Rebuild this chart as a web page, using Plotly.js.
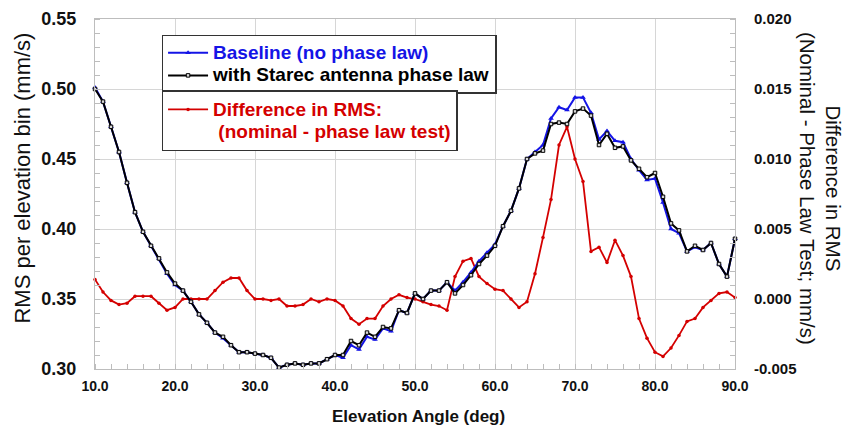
<!DOCTYPE html>
<html>
<head>
<meta charset="utf-8">
<script src="https://cdn.plot.ly/plotly-3.0.1.min.js"></script>
<style>html,body{margin:0;padding:0;background:#fff;}#chart{width:845px;height:430px;}</style>
</head>
<body>
<div id="chart"></div>
<script>
// Elevation angle bins (deg)
var elevation = [10,11,12,13,14,15,16,17,18,19,20,21,22,23,24,25,26,27,28,29,30,31,32,33,34,35,36,37,38,39,40,41,42,43,44,45,46,47,48,49,50,51,52,53,54,55,56,57,58,59,60,61,62,63,64,65,66,67,68,69,70,71,72,73,74,75,76,77,78,79,80,81,82,83,84,85,86,87,88,89,90];

// Baseline (no phase law) RMS, mm/s
var baselineRMS = [0.501,0.491,0.473,0.455,0.433,0.412,0.398,0.388,0.379,0.368,0.360,0.356,0.348,0.339,0.333,0.326,0.322,0.317,0.312,0.312,0.311,0.310,0.308,0.301,0.303,0.304,0.303,0.304,0.304,0.307,0.310,0.308,0.317,0.314,0.323,0.321,0.329,0.327,0.342,0.340,0.354,0.350,0.356,0.356,0.362,0.356,0.362,0.369,0.377,0.383,0.389,0.402,0.413,0.429,0.450,0.455,0.460,0.479,0.487,0.485,0.494,0.494,0.483,0.464,0.470,0.463,0.462,0.450,0.442,0.435,0.436,0.419,0.400,0.397,0.384,0.387,0.385,0.390,0.375,0.366,0.393];

// With Starec antenna phase law RMS, mm/s
var starecRMS = [0.500,0.491,0.473,0.455,0.433,0.412,0.398,0.388,0.379,0.369,0.361,0.356,0.348,0.339,0.333,0.326,0.323,0.317,0.312,0.312,0.311,0.310,0.308,0.301,0.303,0.304,0.303,0.304,0.304,0.307,0.310,0.310,0.320,0.317,0.326,0.323,0.330,0.329,0.342,0.340,0.354,0.350,0.356,0.356,0.362,0.354,0.360,0.367,0.375,0.381,0.388,0.402,0.413,0.429,0.450,0.454,0.456,0.475,0.476,0.475,0.484,0.486,0.481,0.460,0.468,0.458,0.459,0.449,0.443,0.437,0.440,0.423,0.404,0.399,0.384,0.388,0.385,0.390,0.375,0.366,0.393];

// Difference in RMS (nominal - phase law test), mm/s
var diffRMS = [0.0014,0.0005,-0.0001,-0.0004,-0.0003,0.0002,0.0002,0.0002,-0.0003,-0.0008,-0.0006,0.0000,0.0000,0.0000,0.0000,0.0006,0.0012,0.0015,0.0015,0.0006,0.0000,0.0000,-0.0001,0.0000,-0.0005,-0.0005,-0.0004,0.0000,-0.0002,0.0000,-0.0001,-0.0005,-0.0014,-0.0018,-0.0014,-0.0014,-0.0005,0.0000,0.0003,0.0001,0.0000,-0.0002,-0.0004,-0.0005,-0.0008,0.0016,0.0027,0.0029,0.0016,0.0011,0.0007,0.0006,0.0000,-0.0006,-0.0002,0.0018,0.0044,0.0071,0.0110,0.0123,0.0100,0.0084,0.0034,0.0037,0.0026,0.0042,0.0031,0.0016,-0.0014,-0.0028,-0.0038,-0.0041,-0.0035,-0.0026,-0.0016,-0.0014,-0.0006,-0.0001,0.0004,0.0005,0.0001];

// Tick labels
var xTickVals = [10,20,30,40,50,60,70,80,90];
var xTickText = ['10.0','20.0','30.0','40.0','50.0','60.0','70.0','80.0','90.0'];
var rmsTickVals = [0.30,0.35,0.40,0.45,0.50,0.55];
var rmsTickText = ['0.30','0.35','0.40','0.45','0.50','0.55'];
var diffTickVals = [-0.005,0.000,0.005,0.010,0.015,0.020];
var diffTickText = ['-0.005','0.000','0.005','0.010','0.015','0.020'];

var BLUE = '#1414e6', RED = '#d40000', FONT = 'Liberation Sans, Arial, sans-serif';

var traces = [
  {x: elevation, y: diffRMS, yaxis: 'y', type: 'scatter', mode: 'lines+markers',
   name: '<span style="color:' + RED + ';font-size:19px">Difference in RMS:</span><br><span style="color:' + RED + ';font-size:19px">\u00a0(nominal - phase law test)</span>',
   line: {color: RED, width: 1.8}, marker: {symbol: 'circle', size: 3.5, color: RED},
   legend: 'legend2', cliponaxis: false},
  {x: elevation, y: baselineRMS, yaxis: 'y2', type: 'scatter', mode: 'lines+markers',
   name: '<span style="color:' + BLUE + ';font-size:19px">Baseline (no phase law)</span>',
   line: {color: BLUE, width: 2}, marker: {symbol: 'triangle-up', size: 5, color: BLUE},
   legend: 'legend', cliponaxis: false},
  {x: elevation, y: starecRMS, yaxis: 'y2', type: 'scatter', mode: 'lines+markers',
   name: '<span style="font-size:19px">with Starec antenna phase law</span>',
   line: {color: '#000', width: 2}, marker: {symbol: 'square', size: 3.5, color: '#d8d8d8', line: {color: '#000', width: 1}},
   legend: 'legend', cliponaxis: false}
];

var gridC = '#d6d6d6', lineC = '#bdbdbd';
var layout = {
  width: 845, height: 430,
  margin: {l: 95, r: 110, t: 19, b: 61},
  paper_bgcolor: '#fff', plot_bgcolor: '#fff',
  font: {family: FONT, color: '#111'},
  showlegend: true,
  xaxis: {range: [10, 90], tickvals: xTickVals, ticktext: xTickText,
    showgrid: true, gridcolor: gridC, gridwidth: 1, zeroline: false,
    showline: true, linecolor: lineC, linewidth: 1, mirror: true,
    ticks: '', ticklabelstandoff: 4,
    tickfont: {family: FONT, size: 14, weight: 'bold', color: '#111'},
    minor: {dtick: 2, tick0: 10, ticks: 'inside', ticklen: 5, tickcolor: lineC, showgrid: false}},
  yaxis: {range: [-0.005, 0.020], side: 'right', tickvals: diffTickVals, ticktext: diffTickText,
    showgrid: true, gridcolor: gridC, zeroline: false,
    showline: true, linecolor: lineC, linewidth: 1,
    ticks: '', ticklabelstandoff: 15,
    tickfont: {family: FONT, size: 15, weight: 'bold', color: '#111'},
    minor: {dtick: 0.001, tick0: 0, ticks: 'inside', ticklen: 5, tickcolor: lineC, showgrid: false}},
  yaxis2: {range: [0.30, 0.55], side: 'left', overlaying: 'y', tickvals: rmsTickVals, ticktext: rmsTickText,
    showgrid: true, gridcolor: gridC, zeroline: false,
    showline: true, linecolor: lineC, linewidth: 1,
    ticks: '', ticklabelstandoff: 14,
    tickfont: {family: FONT, size: 18, weight: 'bold', color: '#111'},
    minor: {dtick: 0.01, tick0: 0.30, ticks: 'inside', ticklen: 5, tickcolor: lineC, showgrid: false}},
  legend: {x: 0.104, y: 0.955, xanchor: 'left', yanchor: 'top', bgcolor: '#fff',
    bordercolor: '#333', borderwidth: 1.5, itemwidth: 40, tracegroupgap: 0,
    font: {family: FONT, size: 15.2, weight: 'bold', color: '#000'}},
  legend2: {x: 0.104, y: 0.796, xanchor: 'left', yanchor: 'top', bgcolor: '#fff',
    bordercolor: '#333', borderwidth: 1.5, itemwidth: 40, valign: 'top',
    font: {family: FONT, size: 17, weight: 'bold', color: RED}},
  annotations: [
    {text: 'RMS per elevation bin (mm/s)', xref: 'paper', yref: 'paper', x: -0.113, y: 0.546,
     xanchor: 'center', yanchor: 'middle', textangle: -90, showarrow: false,
     font: {family: FONT, size: 22, color: '#111'}},
    {text: 'Difference in RMS<br>(Nominal - Phase Law Test; mm/s)', xref: 'paper', yref: 'paper', x: 1.133, y: 0.517,
     xanchor: 'center', yanchor: 'middle', textangle: 90, showarrow: false,
     font: {family: FONT, size: 20.5, color: '#111'}},
    {text: 'Elevation Angle (deg)', xref: 'paper', yref: 'paper', x: 0.505, y: -0.137,
     xanchor: 'center', yanchor: 'middle', showarrow: false,
     font: {family: FONT, size: 17, weight: 'bold', color: '#111'}}
  ]
};

Plotly.newPlot('chart', traces, layout, {staticPlot: true, displayModeBar: false});
</script>
</body>
</html>
